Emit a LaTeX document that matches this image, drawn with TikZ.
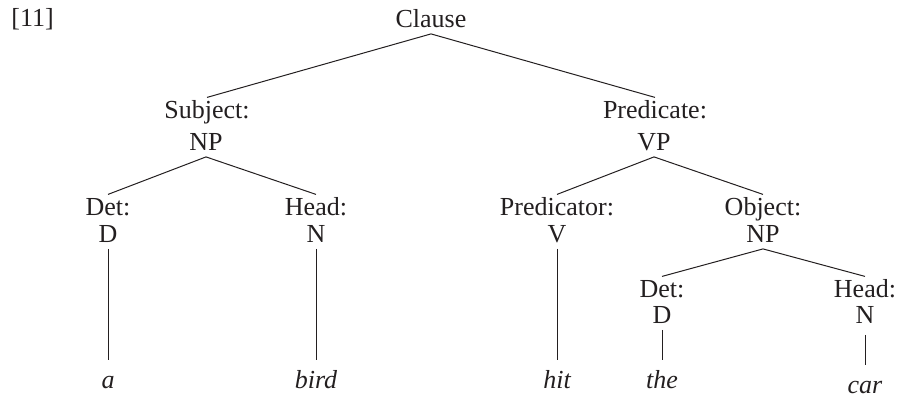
\documentclass[tikz,border=0pt]{standalone}
\usepackage{fontspec}
\setmainfont{Liberation Serif}
\definecolor{ink}{RGB}{35,31,32}
\tikzset{
  lab/.style={anchor=base, text height=8.6pt, text depth=1.75pt, inner sep=1.5pt,
    font=\fontsize{13}{15}\selectfont, text=ink},
  leaf/.style={lab, text depth=0pt, inner ysep=5pt, font=\fontsize{13}{15}\selectfont\itshape},
  branch/.style={draw=ink, line width=0.5pt}
}

\begin{document}
\begin{tikzpicture}[x=0.5pt, y=-0.5pt]
\useasboundingbox (0,0) rectangle (898,397);
\node[lab, anchor=base west] (num) at (8,26) {[11]};
\node[lab] (clause) at (431,27) {Clause};
% subject
\node[lab] (subj) at (207,118) {Subject:};
\node[lab] (subjnp) at (206,150) {NP};
\node[lab] (detA) at (108,215) {Det:};
\node[lab] (dA) at (108,242) {D};
\node[lab] (headA) at (316,215) {Head:};
\node[lab] (nA) at (316,242) {N};
% predicate
\node[lab] (pred) at (655,118) {Predicate:};
\node[lab] (vp) at (654,150) {VP};
\node[lab] (predr) at (557,215) {Predicator:};
\node[lab] (v) at (557,242) {V};
\node[lab] (obj) at (763,215) {Object:};
\node[lab] (objnp) at (763,242) {NP};
\node[lab] (detB) at (662,297) {Det:};
\node[lab] (dB) at (662,323) {D};
\node[lab] (headB) at (865,297) {Head:};
\node[lab] (nB) at (865,323) {N};
% words
\node[leaf] (wa) at (108,388) {a};
\node[leaf] (wbird) at (316,388) {bird};
\node[leaf] (whit) at (557,388) {hit};
\node[leaf] (wthe) at (662,388) {the};
\node[leaf] (wcar) at (865,393) {car};

\foreach \p/\c in {clause/subj, clause/pred, subjnp/detA, subjnp/headA,
                   vp/predr, vp/obj, objnp/detB, objnp/headB}
  \draw[branch] (\p.south) -- (\c.north);
\foreach \p/\c in {dA/wa, nA/wbird, v/whit, dB/wthe}
  \draw[branch] (\p.south) -- (\c.north);
\draw[branch, shorten <=2.5pt] (nB.south) -- (wcar.north);
\end{tikzpicture}
\end{document}
